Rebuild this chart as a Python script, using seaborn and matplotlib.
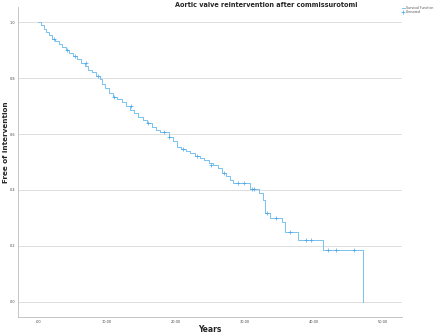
import matplotlib
matplotlib.use("Agg")
import matplotlib.pyplot as plt
import seaborn as sns
import pandas as pd

times = [0, 0.4, 0.8, 1.2, 1.6, 2.0, 2.5, 3.0, 3.5, 4.0, 4.5, 5.0, 5.6, 6.2, 6.8, 7.3,
         7.8, 8.4, 9.0, 9.3, 9.7, 10.3, 10.9, 11.5, 12.2, 12.8, 13.3, 13.9, 14.5, 15.2,
         15.8, 16.5, 17.1, 17.7, 18.9, 19.5, 20.1, 20.7, 21.4, 22.0, 22.7, 23.4, 24.0,
         24.7, 25.4, 26.0, 26.6, 27.2, 27.8, 28.3, 30.7, 32.0, 32.6, 32.9, 33.6, 35.3,
         35.8, 37.7, 41.3, 47.1]
survival = [1.0, 0.99, 0.975, 0.965, 0.955, 0.94, 0.932, 0.922, 0.91, 0.90, 0.89, 0.88,
            0.868, 0.855, 0.843, 0.828, 0.82, 0.808, 0.795, 0.78, 0.763, 0.748, 0.733,
            0.725, 0.715, 0.70, 0.686, 0.675, 0.662, 0.65, 0.64, 0.626, 0.615, 0.607,
            0.59, 0.575, 0.555, 0.545, 0.538, 0.531, 0.522, 0.514, 0.507, 0.498, 0.489,
            0.478, 0.462, 0.45, 0.437, 0.424, 0.404, 0.388, 0.364, 0.317, 0.299, 0.287,
            0.251, 0.221, 0.186, 0.0]

cens_times = [2.3, 4.2, 5.3, 7.0, 8.7, 11.0, 13.5, 16.0, 18.2, 19.0, 21.0, 23.0, 25.0,
              27.0, 29.0, 29.8, 31.0, 31.3, 33.2, 34.5, 36.5, 38.8, 39.6, 42.0, 43.2, 45.8]
cens_surv = [0.94, 0.90, 0.88, 0.855, 0.808, 0.733, 0.70, 0.64, 0.607, 0.59, 0.545, 0.522,
             0.489, 0.462, 0.424, 0.424, 0.404, 0.404, 0.317, 0.299, 0.251, 0.221, 0.221,
             0.186, 0.186, 0.186]

x_ticks = [0, 10, 20, 30, 40, 50]
x_tick_labels = [".00", "10.00", "20.00", "30.00", "40.00", "50.00"]
y_ticks = [0.0, 0.2, 0.4, 0.6, 0.8, 1.0]
y_tick_labels = ["0.0", "0.2", "0.4", "0.6", "0.8", "1.0"]

sns.set_theme(style="white")
plt.rcParams['font.family'] = ['DejaVu Sans']

fig = plt.figure(figsize=(4.4, 3.33), dpi=100)
ax = fig.add_axes([0.041, 0.048, 0.873, 0.931])

surv_df = pd.DataFrame({"t": times, "s": survival})
cens_df = pd.DataFrame({"t": cens_times, "s": cens_surv})

line_color = "#78c2ef"
sns.lineplot(data=surv_df, x="t", y="s", drawstyle="steps-post", color=line_color,
             lw=0.7, ax=ax, label="Survival Function", estimator=None, sort=False)
sns.scatterplot(data=cens_df, x="t", y="s", marker="+", color="#4aa6e6", s=5,
                linewidth=0.5, ax=ax, label="Censored", zorder=3)

ax.set_xlim(-2.9, 52.75)
ax.set_ylim(-0.054, 1.054)
ax.set_xticks(x_ticks)
ax.set_xticklabels(x_tick_labels)
ax.set_yticks(y_ticks)
ax.set_yticklabels(y_tick_labels)
ax.tick_params(axis="both", labelsize=2.5, length=0, pad=2, colors="#444444")
ax.yaxis.grid(True, color="#d9d9d9", lw=0.6)
ax.xaxis.grid(False)
for side in ["top", "right"]:
    ax.spines[side].set_visible(False)
for side in ["left", "bottom"]:
    ax.spines[side].set_color("#bbbbbb")
    ax.spines[side].set_linewidth(0.6)

ax.set_xlabel("")
ax.set_ylabel("")
fig.text(210 / 440, 1 - 329 / 333, "Years", ha="center", va="center",
         fontsize=5.5, fontweight="bold")
fig.text(6 / 440, 1 - 142 / 333, "Free of intervention", ha="center", va="center",
         rotation=90, fontsize=5.2, fontweight="bold")
fig.text(266 / 440, 1 - 5 / 333, "Aortic valve reintervention after commissurotomi",
         ha="center", va="center", fontsize=4.7, fontweight="bold")

leg = ax.legend(loc="upper left", bbox_to_anchor=(0.998, 1.005), fontsize=2.3, frameon=False,
                handlelength=1.0, handletextpad=0.3, borderaxespad=0.0, labelspacing=0.15,
                borderpad=0.1)
for txt in leg.get_texts():
    txt.set_color("#555555")

fig.savefig("out.png", dpi=100)
